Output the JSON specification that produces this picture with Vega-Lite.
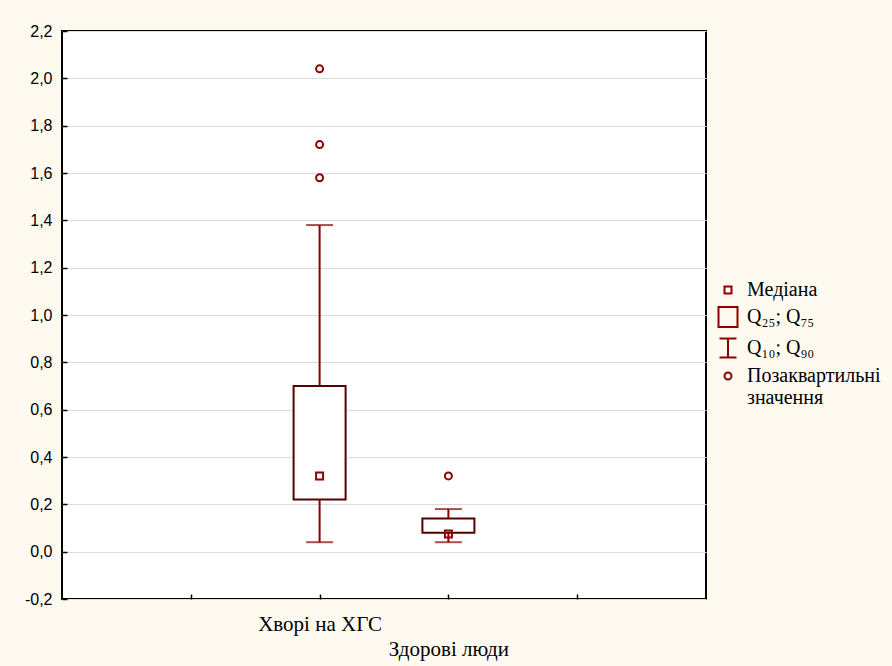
{
  "$schema": "https://vega.github.io/schema/vega-lite/v6.json",
  "width": 644,
  "height": 568,
  "autosize": {"type": "none"},
  "padding": {"left": 62, "top": 31, "right": 186, "bottom": 67},
  "background": "#fffaf0",
  "config": {
    "view": {"fill": "white", "stroke": "black", "strokeWidth": 2},
    "axisY": {
      "labelFont": "Liberation Sans", "labelFontSize": 16, "labelColor": "black",
      "labelPadding": 15, "tickSize": -5, "tickColor": "black", "tickWidth": 1.5,
      "domain": false, "grid": true, "gridColor": "#dcdcdc", "gridWidth": 1, "title": null
    },
    "axisX": {
      "labelFont": "Liberation Serif", "labelFontSize": 21, "labelColor": "black",
      "labelPadding": 19, "tickSize": -5, "tickColor": "black", "tickWidth": 1.5,
      "domain": false, "grid": false, "title": null, "labelAngle": 0, "labelOverlap": false,
      "labelLineHeight": 25, "labelBaseline": "top"
    }
  },
  "datasets": {
    "stats": [
      {"group": "Хворі на ХГС", "q10": 0.04, "q25": 0.22, "median": 0.32, "q75": 0.70, "q90": 1.38},
      {"group": "Здорові люди", "q10": 0.04, "q25": 0.08, "median": 0.075, "q75": 0.14, "q90": 0.18}
    ],
    "outliers": [
      {"group": "Хворі на ХГС", "value": 1.58, "type": "Позаквартильні значення"},
      {"group": "Хворі на ХГС", "value": 1.72, "type": "Позаквартильні значення"},
      {"group": "Хворі на ХГС", "value": 2.04, "type": "Позаквартильні значення"},
      {"group": "Здорові люди", "value": 0.32, "type": "Позаквартильні значення"}
    ]
  },
  "encoding": {
    "x": {
      "field": "group", "type": "nominal",
      "scale": {"type": "point", "domain": ["_a", "Хворі на ХГС", "Здорові люди", "_b"], "padding": 1},
      "axis": {
        "labelFont": "Liberation Serif", "labelFontSize": 21,
        "labelExpr": "indexof(datum.value, '_') == 0 ? '' : (datum.value == 'Здорові люди' ? ['', datum.label] : datum.label)"
      }
    }
  },
  "layer": [
    {
      "data": {"name": "stats"},
      "mark": {"type": "rule", "color": "#8b0000", "strokeWidth": 2},
      "encoding": {
        "y": {
          "field": "q10", "type": "quantitative",
          "scale": {"domain": [-0.2, 2.2], "nice": false, "zero": false},
          "axis": {
            "labelFont": "Liberation Sans", "labelFontSize": 16,
            "values": [-0.2, 0, 0.2, 0.4, 0.6, 0.8, 1.0, 1.2, 1.4, 1.6, 1.8, 2.0, 2.2],
            "labelExpr": "replace(replace(format(datum.value, '.1f'), '.', ','), '−', '-')"
          }
        },
        "y2": {"field": "q90"}
      }
    },
    {
      "data": {"name": "stats"},
      "mark": {"type": "bar", "width": 52, "fill": "white", "stroke": "#550000", "strokeWidth": 2},
      "encoding": {
        "y": {"field": "q25", "type": "quantitative"},
        "y2": {"field": "q75"}
      }
    },
    {
      "data": {"name": "stats"},
      "mark": {"type": "tick", "orient": "horizontal", "size": 27, "thickness": 2, "color": "#8b0000"},
      "encoding": {
        "y": {"field": "q10", "type": "quantitative"}
      }
    },
    {
      "data": {"name": "stats"},
      "mark": {"type": "tick", "orient": "horizontal", "size": 27, "thickness": 2, "color": "#8b0000"},
      "encoding": {
        "y": {"field": "q90", "type": "quantitative"}
      }
    },
    {
      "data": {"name": "stats"},
      "mark": {"type": "point", "shape": "square", "size": 49, "filled": false, "color": "#8b0000", "strokeWidth": 2, "opacity": 1},
      "encoding": {
        "y": {"field": "median", "type": "quantitative"}
      }
    },
    {
      "data": {"name": "outliers"},
      "mark": {"type": "point", "filled": false, "size": 400, "strokeWidth": 2, "opacity": 1, "color": "#8b0000"},
      "encoding": {
        "y": {"field": "value", "type": "quantitative"},
        "shape": {
          "field": "type", "type": "nominal",
          "scale": {
            "domain": ["Медіана", "Q₂₅; Q₇₅", "Q₁₀; Q₉₀", "Позаквартильні значення"],
            "range": [
              "M-0.35,-0.35H0.35V0.35H-0.35Z",
              "M-0.95,-1H0.95V1H-0.95Z",
              "M-0.85,-0.95H0.85M0,-0.95V0.95M-0.85,0.95H0.85",
              "M-0.35,0A0.35,0.35 0 1,0 0.35,0A0.35,0.35 0 1,0 -0.35,0Z"
            ]
          },
          "legend": {
            "title": null, "orient": "none", "legendX": 655, "legendY": 248,
            "symbolSize": 400, "symbolStrokeWidth": 2, "symbolStrokeColor": "#8b0000",
            "labelFont": "Liberation Serif", "labelFontSize": 20, "labelColor": "black",
            "labelOffset": 8, "rowPadding": 3, "labelLimit": 300,
            "labelExpr": "datum.label == 'Позаквартильні значення' ? ['Позаквартильні', 'значення'] : datum.label"
          }
        }
      }
    }
  ]
}
